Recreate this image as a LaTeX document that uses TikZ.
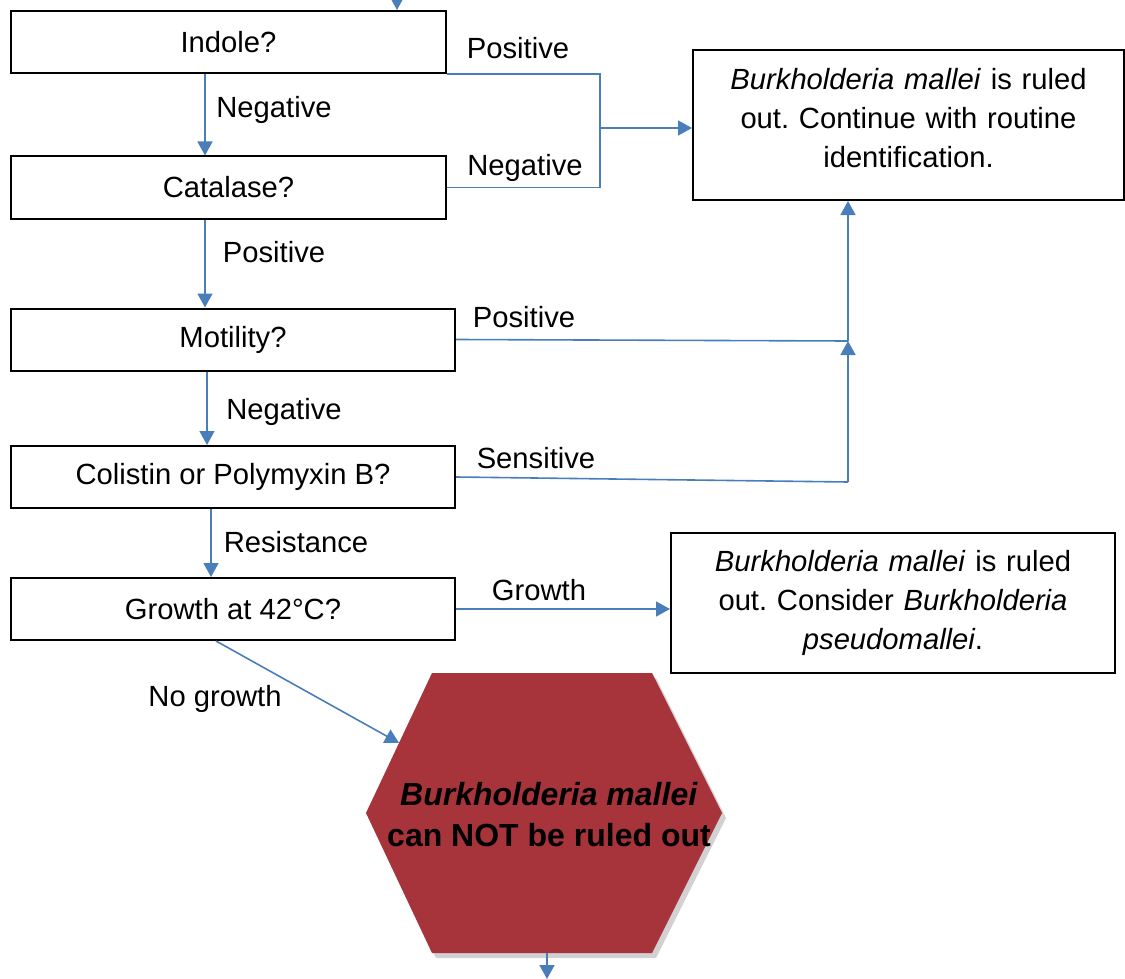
\documentclass[tikz,border=0pt]{standalone}
\usepackage{fontspec}
\setmainfont{Liberation Sans}
\usetikzlibrary{arrows.meta,calc}
\definecolor{flowblue}{RGB}{74,126,187}
\definecolor{verdictred}{RGB}{166,52,58}
\frenchspacing

\begin{document}
\begin{tikzpicture}[x=0.5pt, y=-0.5pt,
    every node/.style={font=\fontsize{14.6}{19.5}\selectfont},
    question/.style={draw=black, line width=1pt, minimum height=31pt, inner sep=0pt},
    answer/.style={draw=black, line width=1pt, align=center, inner sep=0pt},
    flow/.style={draw=flowblue, line width=0.8pt},
    flowarrow/.style={flow, -{Triangle[width=7.5pt,length=7pt]}},
    tag/.style={anchor=base, inner sep=0pt}]
    \useasboundingbox (0,0) rectangle (1125,979);

    % Draw the question boxes
    \foreach \name/\x/\y/\w/\txt in {indole/228.5/42/435/Indole?,
        catalase/228.5/187.5/435/Catalase?, motility/233/339.5/444/Motility?,
        colistin/233/477/444/Colistin or Polymyxin B?, growth/233/609/444/Growth at 42°C?}
        \node[question, minimum width=\w*0.5pt] (\name) at (\x,\y) {\txt};

    % Draw the outcome boxes
    \node[answer, minimum width=215.5pt, minimum height=75pt, text width=205pt] (ruledout) at (908.5,125)
        {\textit{Burkholderia mallei} is ruled\\ out. Continue with routine\\ identification.\rule[-7pt]{0pt}{0pt}};
    \node[answer, minimum width=222pt, minimum height=70pt, text width=210pt] (consider) at (893,603)
        {\textit{Burkholderia mallei} is ruled\\ out. Consider \textit{Burkholderia}\\ \textit{pseudomallei}.};

    % Draw the verdict hexagon
    \coordinate (hexNW) at (432,673);
    \coordinate (hexNE) at (652,673);
    \coordinate (hexE) at (722,813);
    \coordinate (hexSE) at (652,953);
    \coordinate (hexSW) at (432,953);
    \coordinate (hexW) at (366,813);
    \fill[black!30, opacity=0.6] (436,678) -- (656,678) -- (726,818) -- (656,958) -- (436,958) -- (370,818) -- cycle;
    \fill[verdictred] (hexNW) -- (hexNE) -- (hexE) -- (hexSE) -- (hexSW) -- (hexW) -- cycle;
    \node[align=center, font=\fontsize{16}{20.5}\selectfont\bfseries] (verdict) at (549,815)
        {\textit{Burkholderia mallei}\\ can NOT be ruled out};

    % Draw the connectors
    \coordinate (start) at (397,0);
    \coordinate (split) at (600,128);
    \coordinate (mjoin) at (848,341);
    \coordinate (sjoin) at (848,482);
    \coordinate (finish) at (547,979);
    \draw[flowarrow] (start) -- (start |- indole.north);
    \draw[flowarrow] ([xshift=-11.75pt]indole.south) -- ([xshift=-11.75pt]catalase.north);
    \draw[flowarrow] ([xshift=-11.75pt]catalase.south) -- ([xshift=-14pt]motility.north);
    \draw[flowarrow] ([xshift=-13pt]motility.south) -- ([xshift=-13pt]colistin.north);
    \draw[flowarrow] ([xshift=-11pt]colistin.south) -- ([xshift=-11pt]growth.north);
    \draw[flow] (indole.south east) -| (split);
    \draw[flow] (catalase.east) -| (split);
    \draw[flowarrow] (split) -- (split -| ruledout.west);
    \draw[flow] (motility.east) -- (mjoin);
    \draw[flowarrow] (mjoin) -- (mjoin |- ruledout.south);
    \draw[flow] (colistin.east) -- (sjoin);
    \draw[flowarrow] (sjoin) -- (mjoin);
    \draw[flowarrow] (growth.east) -- (consider.west |- growth.east);
    \draw[flowarrow] ([xshift=-8.5pt]growth.south) -- ($(hexW)!.5!(hexNW)$);
    \draw[flowarrow] (hexSE -| finish) -- (finish);

    % Add the answer labels
    \node[tag] (indolepos) at (518,59) {Positive};
    \node[tag] (indoleneg) at (274,118) {Negative};
    \node[tag] (catalaseneg) at (525,176) {Negative};
    \node[tag] (catalasepos) at (274,262) {Positive};
    \node[tag] (motilitypos) at (524,327) {Positive};
    \node[tag] (motilityneg) at (284,419) {Negative};
    \node[tag] (colistinsens) at (536,468) {Sensitive};
    \node[tag] (colistinres) at (296,552) {Resistance};
    \node[tag] (growthyes) at (539,600) {Growth};
    \node[tag] (growthno) at (215,706) {No growth};
\end{tikzpicture}
\end{document}
